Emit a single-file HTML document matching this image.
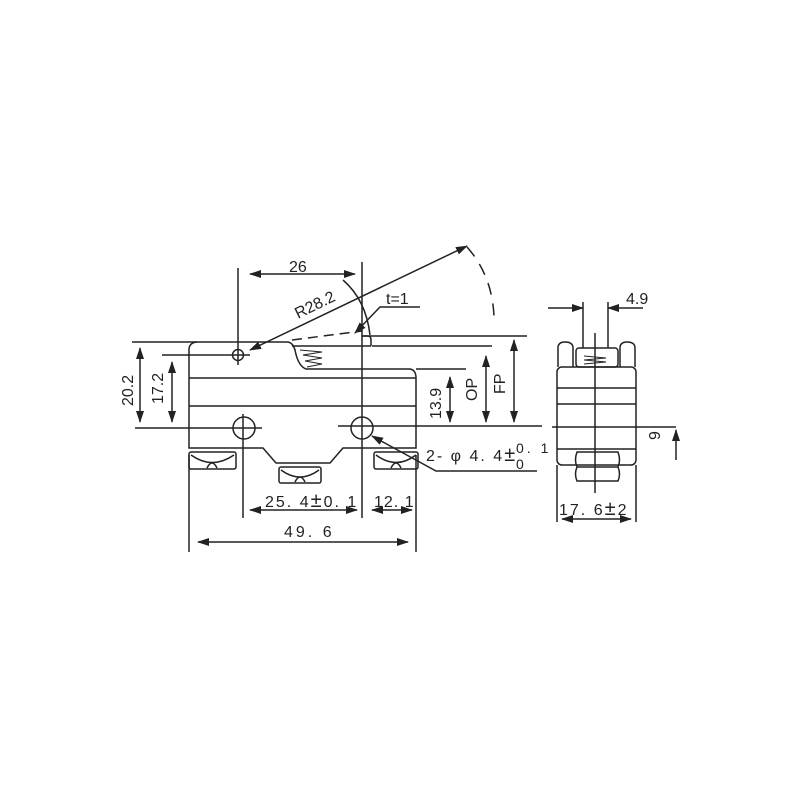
<!DOCTYPE html>
<html><head><meta charset="utf-8"><style>
html,body{margin:0;padding:0;background:#fff;width:800px;height:800px;overflow:hidden}
text{font-family:"Liberation Sans",sans-serif;fill:#222}
</style></head><body>
<svg width="800" height="800" viewBox="0 0 800 800" xmlns="http://www.w3.org/2000/svg">
<defs>
<marker id="a" markerWidth="12" markerHeight="8" refX="11" refY="4" orient="auto-start-reverse" markerUnits="userSpaceOnUse">
<path d="M0,0 L12,4 L0,8 Z" fill="#222"/></marker>
</defs>
<g stroke="#222" stroke-width="1.5" fill="none">
<path d="M189,448 L189,350 Q189,342 198,342 L288,342 Q293,343 295,350 Q298,366 306,369 L410,369 Q416,370 416,378 L416,448 L343,448 L330,463 L276,463 L263,448 Z"/>
<line x1="189" y1="378" x2="416" y2="378"/>
<line x1="189" y1="406" x2="416" y2="406"/>
<circle cx="238" cy="355" r="5.5"/>
<circle cx="244" cy="428" r="11"/>
<circle cx="362" cy="428" r="11"/>
<path d="M300,350 L322,352 L303,355 L322,358 L305,361 L322,364 L307,367" stroke-width="1"/>
<line x1="292" y1="346" x2="371" y2="346"/>
<line x1="362" y1="336" x2="527" y2="336"/>
<line x1="372" y1="346" x2="492" y2="346"/>
<path d="M362,336 L368,336 Q371,336 371,340 L371,346" />
<path d="M292,340 L362,331" stroke-dasharray="10,6"/>
<rect x="189" y="452" width="47" height="17" rx="2"/>
<path d="M191,455 Q212,470 234,455"/><path d="M207,468 Q212,458 217,468"/>
<rect x="279" y="467" width="42" height="16" rx="2"/>
<path d="M281,470 Q300,484 319,470"/><path d="M295,482 Q300,472 305,482"/>
<rect x="374" y="452" width="44" height="17" rx="2"/>
<path d="M376,455 Q396,470 416,455"/><path d="M391,468 Q396,458 401,468"/>
<line x1="238" y1="268" x2="238" y2="365"/>
<line x1="362" y1="262" x2="362" y2="518"/>
<line x1="243" y1="414" x2="243" y2="518"/>
<line x1="189" y1="455" x2="189" y2="552"/>
<line x1="416" y1="455" x2="416" y2="552"/>
<line x1="132" y1="342" x2="197" y2="342"/>
<line x1="162" y1="355" x2="250" y2="355"/>
<line x1="135" y1="428" x2="262" y2="428"/>
<line x1="338" y1="426" x2="542" y2="426"/>
<line x1="416" y1="369" x2="466" y2="369"/>
<line x1="250" y1="274" x2="355" y2="274" marker-start="url(#a)" marker-end="url(#a)"/>
<line x1="250" y1="350" x2="467" y2="246" marker-start="url(#a)" marker-end="url(#a)"/>
<path d="M467,247 Q492,275 494,316" stroke-dasharray="12,9"/>
<path d="M343,280 Q366,300 370,335"/>
<path d="M355,333 L380,307 L420,307" marker-start="url(#a)"/>
<line x1="140" y1="348" x2="140" y2="422" marker-start="url(#a)" marker-end="url(#a)"/>
<line x1="172" y1="362" x2="172" y2="422" marker-start="url(#a)" marker-end="url(#a)"/>
<line x1="450" y1="377" x2="450" y2="422" marker-start="url(#a)" marker-end="url(#a)"/>
<line x1="486" y1="356" x2="486" y2="422" marker-start="url(#a)" marker-end="url(#a)"/>
<line x1="514" y1="340" x2="514" y2="422" marker-start="url(#a)" marker-end="url(#a)"/>
<path d="M537,471 L436,471 L372,436" marker-end="url(#a)"/>
<line x1="250" y1="510" x2="357" y2="510" marker-start="url(#a)" marker-end="url(#a)"/>
<line x1="372" y1="510" x2="412" y2="510" marker-start="url(#a)" marker-end="url(#a)"/>
<line x1="198" y1="542" x2="408" y2="542" marker-start="url(#a)" marker-end="url(#a)"/>
<path d="M558,367 L558,348 Q558,342 565,342 Q573,342 573,348 L573,367"/>
<path d="M620,367 L620,348 Q620,342 627,342 Q635,342 635,348 L635,367"/>
<rect x="576" y="348" width="42" height="19" rx="3"/>
<path d="M584,356 L606,358 L584,360 L606,362 L584,364" stroke-width="1"/>
<rect x="557" y="367" width="79" height="98" rx="5"/>
<line x1="557" y1="388" x2="636" y2="388"/>
<line x1="557" y1="404" x2="636" y2="404"/>
<line x1="557" y1="449" x2="636" y2="449"/>
<path d="M577,452 L618,452 Q621,460 618,467 Q621,474 618,481 L577,481 Q574,474 577,467 Q574,460 577,452 Z"/>
<line x1="577" y1="467" x2="618" y2="467"/>
<line x1="595" y1="333" x2="595" y2="493"/>
<line x1="552" y1="427" x2="676" y2="427"/>
<line x1="676" y1="460" x2="676" y2="430" marker-end="url(#a)"/>
<line x1="583" y1="302" x2="583" y2="348"/>
<line x1="608" y1="302" x2="608" y2="348"/>
<line x1="548" y1="308" x2="583" y2="308" marker-end="url(#a)"/>
<line x1="643" y1="308" x2="608" y2="308" marker-end="url(#a)"/>
<line x1="557" y1="465" x2="557" y2="522"/>
<line x1="636" y1="465" x2="636" y2="522"/>
<line x1="562" y1="519" x2="631" y2="519" marker-start="url(#a)" marker-end="url(#a)"/>
</g>
<g font-size="16">
<text x="289" y="272">26</text>
<text transform="translate(298,319) rotate(-26)">R28.2</text>
<text x="386" y="304">t=1</text>
<text transform="translate(133,406) rotate(-90)">20.2</text>
<text transform="translate(163,404) rotate(-90)">17.2</text>
<text transform="translate(441,419) rotate(-90)">13.9</text>
<text transform="translate(477,401) rotate(-90)">OP</text>
<text transform="translate(505,394) rotate(-90)">FP</text>
<text x="426" y="461" letter-spacing="2">2- φ 4. 4<tspan font-size="20">±</tspan></text>
<text x="516" y="453" font-size="14" letter-spacing="3">0. 1</text>
<text x="516" y="469" font-size="14">0</text>
<text x="265" y="507" letter-spacing="2">25. 4<tspan font-size="20">±</tspan>0. 1</text>
<text x="374" y="507" letter-spacing="1">12. 1</text>
<text x="284" y="537" letter-spacing="3">49. 6</text>
<text x="626" y="304">4.9</text>
<text x="559" y="515" letter-spacing="2">17. 6<tspan font-size="20">±</tspan>2</text>
<text transform="translate(660,440) rotate(-90)">9</text>
</g>
</svg>
</body></html>
